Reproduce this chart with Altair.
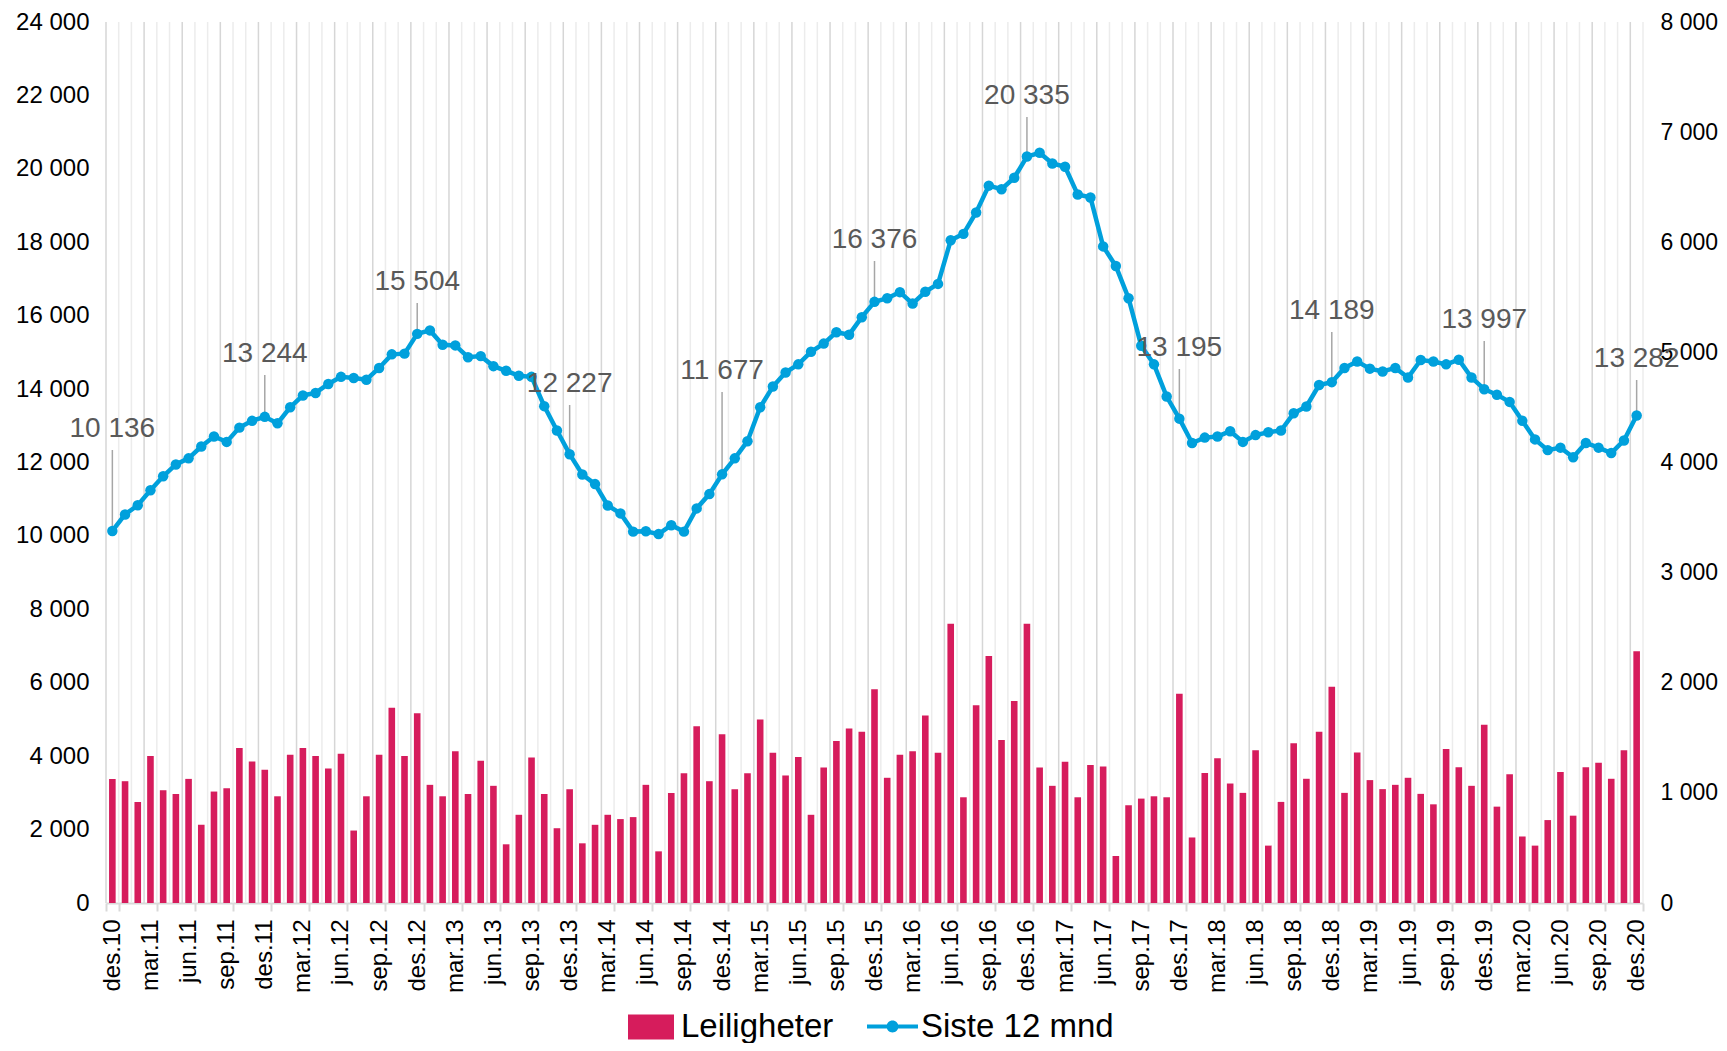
import altair as alt
import pandas as pd

# ---------------- data ----------------
month_names = ["jan", "feb", "mar", "apr", "mai", "jun", "jul", "aug", "sep", "okt", "nov", "des"]
months = ["des.10"] + [f"{month_names[(i - 1) % 12]}.{11 + (i - 1) // 12}" for i in range(1, 121)]

leiligheter = [
    1127, 1106, 917, 1335, 1024, 990, 1127, 710, 1012, 1042, 1408, 1286,
    1210, 969, 1347, 1408, 1335, 1222, 1356, 658, 969, 1347, 1773, 1335,
    1722, 1073, 969, 1377, 990, 1292, 1064, 533, 801, 1322, 990, 679,
    1033, 542, 710, 801, 762, 780, 1073, 469, 999, 1179, 1606, 1106,
    1533, 1033, 1179, 1667, 1365, 1158, 1325, 801, 1231, 1472, 1584, 1554,
    1941, 1137, 1347, 1377, 1703, 1365, 2535, 960, 1795, 2243, 1481, 1834,
    2535, 1231, 1064, 1283, 960, 1252, 1240, 427, 887, 948, 969, 960,
    1900, 595, 1180, 1314, 1085, 1000, 1387, 521, 918, 1451, 1128, 1555,
    1964, 1000, 1366, 1116, 1034, 1073, 1137, 991, 896, 1399, 1232, 1064,
    1619, 875, 1168, 604, 521, 753, 1189, 793, 1232, 1274, 1128, 1387,
    2287,
]

siste12 = [
    10136, 10584, 10837, 11246, 11626, 11947, 12113, 12434, 12707, 12561, 12950, 13135,
    13244, 13067, 13505, 13827, 13895, 14138, 14333, 14304, 14255, 14576, 14946, 14966,
    15504, 15599, 15209, 15190, 14869, 14898, 14625, 14498, 14362, 14333, 13535, 12872,
    12227, 11675, 11412, 10828, 10613, 10117, 10127, 10049, 10292, 10117, 10750, 11139,
    11677, 12113, 12580, 13505, 14070, 14450, 14674, 15015, 15239, 15550, 15482, 15959,
    16376, 16475, 16641, 16329, 16650, 16865, 18053, 18228, 18812, 19542, 19445, 19757,
    20335, 20438, 20146, 20058, 19299, 19221, 17887, 17351, 16475, 15180, 14674, 13798,
    13195, 12532, 12678, 12707, 12853, 12561, 12746, 12824, 12872, 13340, 13525, 14109,
    14189, 14576, 14752, 14557, 14479, 14576, 14314, 14791, 14752, 14674, 14800, 14314,
    13997, 13846, 13651, 13135, 12629, 12337, 12405, 12142, 12532, 12405, 12259, 12600,
    13282,
]

# annotated months (every december) and the height of their labels (left-axis units)
ann_months = months[::12]
ann_level = [12913, 14956, 16917, 14139, 14493, 18062, 21984, 15119, 16127, 15882, 14820]

tick_months = months[::3]

# ---------------- styling ----------------
FONT = "Liberation Sans"
CRIMSON = "#D61C5C"
BLUE = "#00A0DC"
W, H = 1537, 881

df = pd.DataFrame({"month": months, "leil": leiligheter, "siste": siste12})
df["major"] = [m in tick_months for m in months]

ann_values = [siste12[months.index(m)] for m in ann_months]
ann = pd.DataFrame({"month": ann_months, "value": ann_values, "level": ann_level})
ann["label"] = [f"{v:,}".replace(",", " ") for v in ann_values]

x_axis = alt.Axis(
    values=tick_months, tickBand="extent", labelAngle=270, labelFontSize=24,
    labelColor="#000000", labelPadding=8, tickSize=8, tickColor="#d9d9d9",
    tickWidth=2, domainColor="#d9d9d9", domainWidth=2, grid=False, title=None,
    labelFont=FONT,
)
xscale = alt.Scale(paddingInner=0, paddingOuter=0)


def X(**kw):
    return alt.X("month:O", sort=months, scale=xscale, axis=x_axis, **kw)


fmt = "replace(format(datum.value, ','), ',', ' ')"

# vertical grid lines at every month boundary
grid = alt.Chart(df).mark_rule(strokeWidth=1.5).encode(
    x=X(bandPosition=0),
    color=alt.condition("datum.major", alt.value("#d6d6d6"), alt.value("#ececec")),
)
grid_end = alt.Chart(df.tail(1)).mark_rule(strokeWidth=1.5, color="#ececec").encode(
    x=X(bandPosition=1),
)

bar_legend = alt.Legend(
    orient="none", legendX=522, legendY=982, title=None, padding=0,
    symbolType="M-1,-0.54L1,-0.54L1,0.54L-1,0.54Z", symbolSize=2116,
    symbolStrokeWidth=0, symbolOpacity=1,
    labelFontSize=33, labelFont=FONT, labelColor="#000000", labelOffset=7, labelLimit=400,
)
bars = alt.Chart(df).transform_calculate(series="'Leiligheter'").mark_bar(
    width=alt.RelativeBandSize(0.52)
).encode(
    x=X(),
    y=alt.Y(
        "leil:Q", scale=alt.Scale(domain=[0, 8000], nice=False),
        axis=alt.Axis(orient="right", values=list(range(0, 8001, 1000)), labelExpr=fmt,
                      labelFontSize=23, labelFont=FONT, labelColor="#000000", labelPadding=17,
                      ticks=False, domain=False, grid=False, title=None),
    ),
    color=alt.Color("series:N", scale=alt.Scale(range=[CRIMSON]), legend=bar_legend),
)

yline = alt.Y(
    "siste:Q", scale=alt.Scale(domain=[0, 24000], nice=False),
    axis=alt.Axis(orient="left", values=list(range(0, 24001, 2000)), labelExpr=fmt,
                  labelFontSize=24, labelFont=FONT, labelColor="#000000", labelPadding=17,
                  ticks=False, domain=False, grid=False, title=None),
)

line = alt.Chart(df).mark_line(color=BLUE, strokeWidth=4.5).encode(x=X(), y=yline)

line_legend = alt.Legend(
    orient="none", legendX=761, legendY=979, title=None, padding=0,
    symbolType=("M-1,-0.078L-0.225,-0.078L-0.225,0.078L-1,0.078Z"
                "M0.225,-0.078L1,-0.078L1,0.078L0.225,0.078Z"
                "M0.235,0A0.235,0.235,0,1,1,-0.235,0A0.235,0.235,0,1,1,0.235,0Z"),
    symbolSize=2601, symbolStrokeWidth=0, symbolOpacity=1,
    labelFontSize=33, labelFont=FONT, labelColor="#000000", labelOffset=3, labelLimit=400,
)
points = alt.Chart(df).transform_calculate(series="'Siste 12 mnd'").mark_circle(
    size=110, opacity=1
).encode(
    x=X(),
    y=alt.Y("siste:Q"),
    color=alt.Color("series:N", scale=alt.Scale(range=[BLUE]), legend=line_legend),
)

leaders = alt.Chart(ann).mark_rule(color="#a6a6a6", strokeWidth=1.5, yOffset=21).encode(
    x=X(), y=alt.Y("level:Q"), y2="value:Q",
)
texts = alt.Chart(ann).mark_text(
    fontSize=28, font=FONT, color="#595959", baseline="middle", align="center"
).encode(x=X(), y=alt.Y("level:Q"), text="label:N")

inner = alt.layer(leaders, line, points, texts)

chart = alt.layer(grid, grid_end, bars, inner).resolve_scale(
    y="independent", color="independent"
).properties(
    width=W, height=H,
    padding={"left": 98, "top": 14, "right": 76, "bottom": 140},
    autosize=alt.AutoSizeParams(type="none"),
).configure(font=FONT).configure_view(stroke=None)

chart.save("out.html", embed_options={"renderer": "svg", "actions": False})
